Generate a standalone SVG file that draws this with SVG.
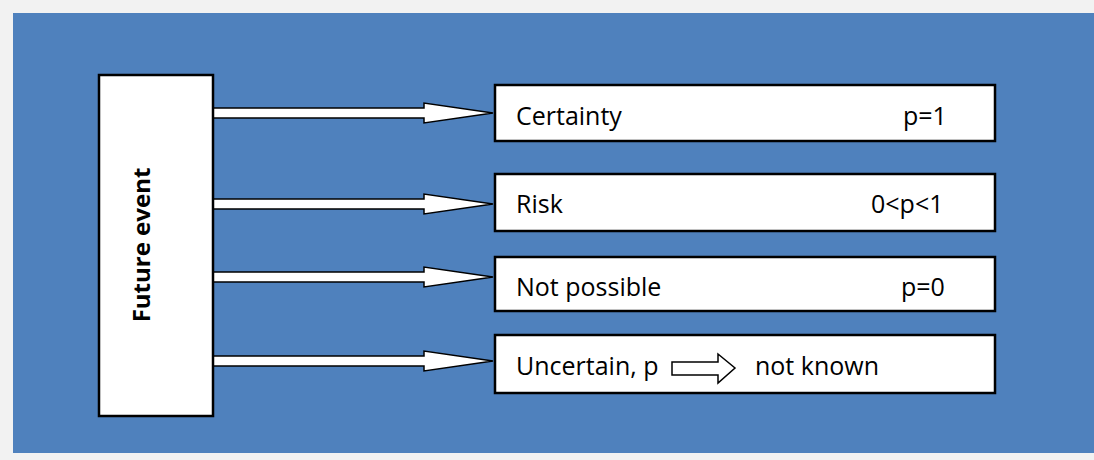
<svg xmlns="http://www.w3.org/2000/svg" width="1094" height="460" viewBox="0 0 1094 460">
<style>
.box{fill:#fff;stroke:#000;stroke-width:2.5}
.arr{fill:#fff;stroke:#000;stroke-width:1.5;stroke-linejoin:miter}
.t{font-family:"Open Sans","Noto Sans",sans-serif;font-size:25px;fill:#000}
.b{font-family:"Open Sans","Noto Sans",sans-serif;font-size:24px;font-weight:bold;fill:#000}
</style>
<defs>
<path id="bigArrow" d="M213,-5 H424 V-10 L493,0 L424,10 V5 H213 Z"/>
</defs>
<rect x="0" y="0" width="1094" height="460" fill="#f2f2f2"/>
<rect x="13" y="13" width="1081" height="440" fill="#4f81bd"/>
<g id="connectors">
<use href="#bigArrow" class="arr" transform="translate(0,113)"/>
<use href="#bigArrow" class="arr" transform="translate(0,204)"/>
<use href="#bigArrow" class="arr" transform="translate(0,277)"/>
<use href="#bigArrow" class="arr" transform="translate(0,361)"/>
</g>
<g id="future-event">
<rect class="box" x="99" y="75" width="114" height="341"/>
<text class="b" transform="translate(150,245) rotate(-90)" text-anchor="middle">Future event</text>
</g>
<g id="certainty">
<rect class="box" x="495" y="85" width="500" height="56"/>
<text class="t" x="516" y="125">Certainty</text>
<text class="t" x="903" y="125">p=1</text>
</g>
<g id="risk">
<rect class="box" x="495" y="174" width="500" height="57"/>
<text class="t" x="516" y="213">Risk</text>
<text class="t" x="871" y="213">0&lt;p&lt;1</text>
</g>
<g id="not-possible">
<rect class="box" x="495" y="257" width="500" height="54"/>
<text class="t" x="516" y="296">Not possible</text>
<text class="t" x="901" y="296">p=0</text>
</g>
<g id="uncertain">
<rect class="box" x="495" y="335" width="500" height="58"/>
<text class="t" x="516" y="375">Uncertain, p</text>
<path class="arr" d="M672,362 H718 V354 L735,368 L718,383 V375 H672 Z"/>
<text class="t" x="755" y="375">not known</text>
</g>
</svg>
